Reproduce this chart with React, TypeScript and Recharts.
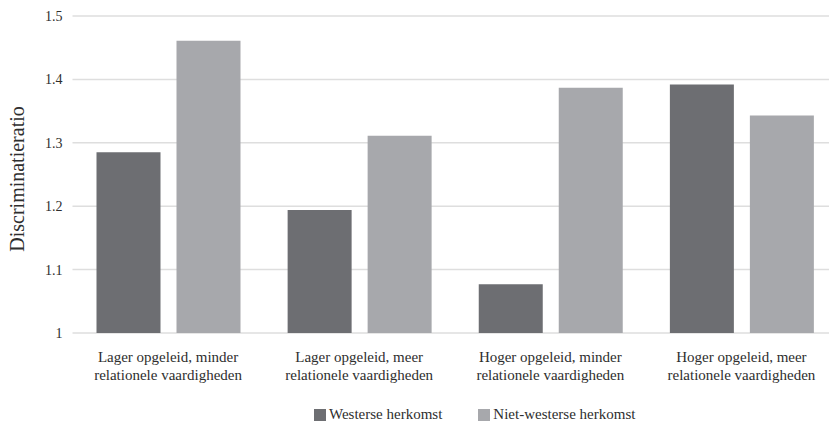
import React from "react";
import { BarChart, Bar, XAxis, YAxis, CartesianGrid, Legend, Label } from "recharts";

const categories = [
  "Lager opgeleid, minder\nrelationele vaardigheden",
  "Lager opgeleid, meer\nrelationele vaardigheden",
  "Hoger opgeleid, minder\nrelationele vaardigheden",
  "Hoger opgeleid, meer\nrelationele vaardigheden",
];
const westers = [1.285, 1.194, 1.077, 1.392];
const nietWesters = [1.461, 1.311, 1.387, 1.343];
const yTicks = [1, 1.1, 1.2, 1.3, 1.4, 1.5];
const seriesNames = ["Westerse herkomst", "Niet-westerse herkomst"];

const DARK = "#6d6e72";
const LIGHT = "#a7a8ac";
const TEXT = "#2e2e2e";
const FONT = "'Liberation Serif', 'Times New Roman', serif";

const data = categories.map((c, i) => ({
  name: c,
  westers: westers[i],
  nietWesters: nietWesters[i],
}));

function CategoryTick({ x, y, payload }: any) {
  const lines = String(payload.value).split("\n");
  return (
    <text x={x} y={y} textAnchor="middle" fill={TEXT} fontSize={15} fontFamily={FONT}>
      {lines.map((l, i) => (
        <tspan key={i} x={x} dy={i === 0 ? 21 : 18}>
          {l}
        </tspan>
      ))}
    </text>
  );
}

function LegendContent() {
  const colors = [DARK, LIGHT];
  return (
    <div style={{ display: "flex", gap: 36, paddingTop: 21, fontFamily: FONT, fontSize: 15, color: TEXT }}>
      {seriesNames.map((n, i) => (
        <div key={n} style={{ display: "flex", alignItems: "center" }}>
          <span style={{ width: 12, height: 12, background: colors[i], marginRight: 3, display: "inline-block" }} />
          <span>{n}</span>
        </div>
      ))}
    </div>
  );
}

export default function App() {
  return (
    <div style={{ position: "absolute", left: 0, top: 0, width: 829, height: 425, overflow: "hidden", background: "#fff" }}>
      <BarChart
        width={837}
        height={425}
        data={data}
        margin={{ top: 16, right: 0, left: 0, bottom: 0 }}
        barSize={64}
        barGap={16}
      >
        <CartesianGrid vertical={false} stroke="#dedede" strokeWidth={1.5} />
        <XAxis
          dataKey="name"
          axisLine={false}
          tickLine={false}
          height={52}
          interval={0}
          tick={<CategoryTick />}
        />
        <YAxis
          width={72.5}
          domain={[1, 1.5]}
          ticks={yTicks}
          axisLine={false}
          tickLine={false}
          tickSize={0}
          tickMargin={10}
          tick={{ fill: TEXT, fontSize: 14, fontFamily: FONT }}
          tickFormatter={(v: number) => String(Number(v.toFixed(1)))}
        >
          <Label
            content={() => (
              <text
                x={17}
                y={179}
                transform="rotate(-90 17 179)"
                textAnchor="middle"
                dominantBaseline="central"
                fill={TEXT}
                fontSize={20}
                fontFamily={FONT}
              >
                Discriminatieratio
              </text>
            )}
          />
        </YAxis>
        <Legend
          verticalAlign="bottom"
          height={40}
          content={<LegendContent />}
          wrapperStyle={{ left: 314, width: "auto" }}
        />
        <Bar dataKey="westers" name={seriesNames[0]} fill={DARK} isAnimationActive={false} />
        <Bar dataKey="nietWesters" name={seriesNames[1]} fill={LIGHT} isAnimationActive={false} />
      </BarChart>
    </div>
  );
}
